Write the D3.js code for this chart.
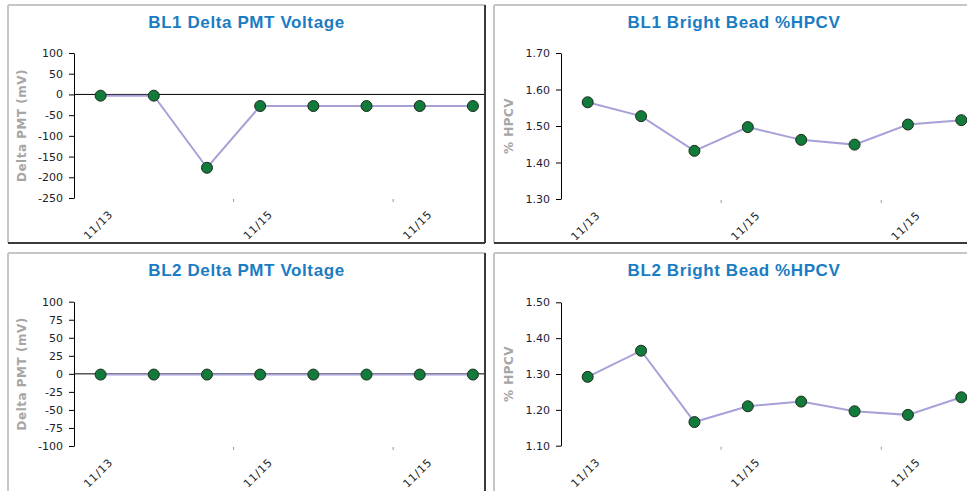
<!DOCTYPE html>
<html>
<head>
<meta charset="utf-8">
<script src="https://cdn.jsdelivr.net/npm/d3@7"></script>
<style>
html,body{margin:0;padding:0;background:#fff;}
svg{display:block;}
</style>
</head>
<body>
<svg id="chart" width="967" height="491"></svg>
<script>
// ---- data ----
const runs = [1, 2, 3, 4, 5, 6, 7, 8];
const xLabels = ["11/13", "", "", "11/15", "", "", "11/15", ""];
const bl1Delta = [-3, -3, -177, -28, -28, -28, -28, -28];
const bl1Hpcv = [1.565, 1.527, 1.432, 1.497, 1.462, 1.449, 1.504, 1.516];
const bl2Delta = [-1, -1, -1, -1, -1, -1, -1, -1];
const bl2Hpcv = [1.292, 1.365, 1.166, 1.210, 1.223, 1.196, 1.186, 1.235];
const deltaTicks1 = [100, 50, 0, -50, -100, -150, -200, -250];
const hpcvTicks1 = [1.70, 1.60, 1.50, 1.40, 1.30];
const deltaTicks2 = [100, 75, 50, 25, 0, -25, -50, -75, -100];
const hpcvTicks2 = [1.50, 1.40, 1.30, 1.20, 1.10];
const titles = ["BL1 Delta PMT Voltage", "BL1 Bright Bead %HPCV", "BL2 Delta PMT Voltage", "BL2 Bright Bead %HPCV"];
const yTitles = ["Delta PMT (mV)", "% HPCV", "Delta PMT (mV)", "% HPCV"];

const svg = d3.select("#chart");
const intFmt = d => String(d);
const decFmt = d => d.toFixed(2);

const panels = [
  {frame: [8, 5, 485, 243], plot: [74, 53, 499.5, 198], values: bl1Delta, ticks: deltaTicks1, fmt: intFmt, zero: true, title: titles[0], yTitle: yTitles[0], yTitleX: 22, tickColor: "#222"},
  {frame: [494, 5, 974, 243], plot: [561, 53, 988, 199], values: bl1Hpcv, ticks: hpcvTicks1, fmt: decFmt, zero: false, title: titles[1], yTitle: yTitles[1], yTitleX: 509, tickColor: "#1c1c3a"},
  {frame: [8, 253, 485, 495], plot: [74, 301.7, 499.5, 446], values: bl2Delta, ticks: deltaTicks2, fmt: intFmt, zero: true, title: titles[2], yTitle: yTitles[2], yTitleX: 22, tickColor: "#222"},
  {frame: [494, 253, 974, 495], plot: [561, 302.3, 988, 445.7], values: bl2Hpcv, ticks: hpcvTicks2, fmt: decFmt, zero: false, title: titles[3], yTitle: yTitles[3], yTitleX: 509, tickColor: "#1c1c3a"}
];

panels.forEach((p, i) => {
  const [fx0, fy0, fx1, fy1] = p.frame;
  const [px0, py0, px1, py1] = p.plot;
  const clipId = "clip" + i;
  svg.append("clipPath").attr("id", clipId)
    .append("rect").attr("x", fx0).attr("y", fy0).attr("width", fx1 - fx0).attr("height", fy1 - fy0);
  const g = svg.append("g").attr("clip-path", `url(#${clipId})`);

  const x = d3.scaleBand().domain(runs).range([px0, px1]);
  const y = d3.scaleLinear().domain([d3.min(p.ticks), d3.max(p.ticks)]).range([py1, py0]);

  // title
  g.append("text")
    .attr("x", (fx0 + fx1) / 2).attr("y", fy0 + 23)
    .attr("text-anchor", "middle")
    .attr("font-family", "Liberation Sans, Arial, sans-serif")
    .attr("font-weight", "bold").attr("font-size", 17)
    .attr("letter-spacing", 0.6)
    .attr("fill", "#1a7cc2")
    .text(p.title);

  // y axis title
  g.append("text")
    .attr("transform", `translate(${p.yTitleX},${(py0 + py1) / 2}) rotate(-90)`)
    .attr("text-anchor", "middle").attr("dominant-baseline", "central")
    .attr("font-family", "DejaVu Sans, Verdana, sans-serif")
    .attr("font-weight", "bold").attr("font-size", 12)
    .attr("letter-spacing", 0.5)
    .attr("fill", "#a6a6a6")
    .text(p.yTitle);

  // y axis
  const yAxis = g.append("g").attr("transform", `translate(${px0},0)`)
    .call(d3.axisLeft(y).tickValues(p.ticks).tickFormat(p.fmt).tickSize(5).tickPadding(6).tickSizeOuter(0));
  yAxis.select(".domain").attr("stroke", "#000");
  yAxis.selectAll(".tick line").attr("stroke", "#000");
  yAxis.selectAll(".tick text")
    .attr("font-family", "DejaVu Sans, Verdana, sans-serif")
    .attr("font-size", 11).attr("fill", p.tickColor);

  // x tick marks (every 3 categories) at bottom
  const tickIdx = [3, 6];
  g.selectAll(".xt").data(tickIdx).enter().append("line")
    .attr("x1", d => x(runs[d])).attr("x2", d => x(runs[d]))
    .attr("y1", py1 + 1).attr("y2", py1 + 4)
    .attr("stroke", "#999").attr("stroke-width", 1);

  // x labels
  g.selectAll(".xl").data(runs.filter((d, k) => xLabels[k] !== "")).enter().append("text")
    .attr("transform", d => `translate(${x(d) + x.bandwidth() / 2 + 13},${py1 + 17}) rotate(-45)`)
    .attr("text-anchor", "end")
    .attr("font-family", "DejaVu Sans, Verdana, sans-serif")
    .attr("font-size", 11).attr("letter-spacing", 0.8).attr("fill", "#222")
    .text(d => xLabels[runs.indexOf(d)]);

  // zero line
  if (p.zero) {
    g.append("line").attr("x1", px0).attr("x2", px1)
      .attr("y1", y(0)).attr("y2", y(0))
      .attr("stroke", "#000").attr("stroke-width", 1);
  }

  // series line
  const line = d3.line().x((d, k) => x(runs[k]) + x.bandwidth() / 2).y(d => y(d));
  g.append("path").datum(p.values).attr("d", line)
    .attr("fill", "none").attr("stroke", "#a7a1d8").attr("stroke-width", 2);

  g.selectAll(".pt").data(p.values).enter().append("circle")
    .attr("cx", (d, k) => x(runs[k]) + x.bandwidth() / 2)
    .attr("cy", d => y(d))
    .attr("r", 5.5)
    .attr("fill", "#127a3a").attr("stroke", "#1d2d1d").attr("stroke-width", 1);

  // frame: light top/left, dark right/bottom
  svg.append("line").attr("x1", fx0).attr("x2", fx1).attr("y1", fy0).attr("y2", fy0)
    .attr("stroke", "#c6c6c6").attr("stroke-width", 2);
  svg.append("line").attr("x1", fx0).attr("x2", fx0).attr("y1", fy0).attr("y2", fy1)
    .attr("stroke", "#c6c6c6").attr("stroke-width", 2);
  svg.append("line").attr("x1", fx1).attr("x2", fx1).attr("y1", fy0).attr("y2", fy1)
    .attr("stroke", "#3a3a3a").attr("stroke-width", 2);
  svg.append("line").attr("x1", fx0).attr("x2", fx1).attr("y1", fy1).attr("y2", fy1)
    .attr("stroke", "#3a3a3a").attr("stroke-width", 2);
});
</script>
</body>
</html>
